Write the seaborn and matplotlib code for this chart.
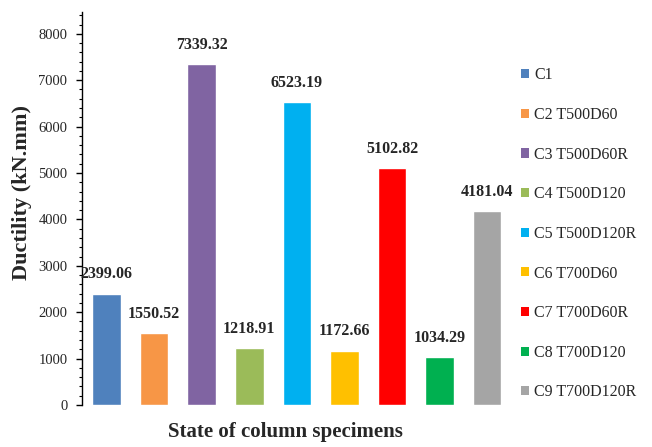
import matplotlib
matplotlib.use("Agg")
import matplotlib.pyplot as plt
import seaborn as sns
import pandas as pd
from matplotlib.patches import Patch
from matplotlib.ticker import MultipleLocator

categories = ["C1", "C2 T500D60", "C3 T500D60R", "C4 T500D120", "C5 T500D120R",
              "C6 T700D60", "C7 T700D60R", "C8 T700D120", "C9 T700D120R"]
values = [2399.06, 1550.52, 7339.32, 1218.91, 6523.19, 1172.66, 5102.82, 1034.29, 4181.04]
value_labels = ["2399.06", "1550.52", "7339.32", "1218.91", "6523.19",
                "1172.66", "5102.82", "1034.29", "4181.04"]
colors = ["#4F81BD", "#F79646", "#8064A2", "#9BBB59", "#00B0F0",
          "#FFC000", "#FF0000", "#00B050", "#A5A5A5"]
y_ticks = [0, 1000, 2000, 3000, 4000, 5000, 6000, 7000, 8000]

sns.set_style("white")
plt.rcParams["font.family"] = ["Liberation Serif", "DejaVu Serif"]

df = pd.DataFrame({"cat": categories, "val": values})

fig = plt.figure(figsize=(6.52, 4.47), dpi=100)
W, H = 652, 447
ax = fig.add_axes([82 / W, 1 - 405 / H, (511 - 82) / W, (405 - 12) / H])

sns.barplot(data=df, x="cat", y="val", hue="cat", palette=colors, width=0.6,
            legend=False, ax=ax, saturation=1, order=categories, hue_order=categories)

ax.set_xlim(-0.515, 8.5)
ax.set_ylim(0, 8470)
ax.set_yticks(y_ticks)
ax.yaxis.set_minor_locator(MultipleLocator(200))
ax.set_xticks([])
ax.set_xlabel("")
ax.set_ylabel("")
for s in ["top", "right", "bottom"]:
    ax.spines[s].set_visible(False)
ax.spines["left"].set_color("black")
ax.spines["left"].set_linewidth(1.0)
ax.tick_params(axis="y", which="major", direction="out", length=4.5, width=1,
               color="black", labelsize=10.5, pad=6, left=True)
ax.tick_params(axis="y", which="minor", direction="out", length=2.5, width=0.8,
               color="black", left=True)

for i, (v, lab) in enumerate(zip(values, value_labels)):
    ax.annotate(lab, (i, v), xytext=(0, 14), textcoords="offset points",
                ha="center", va="center", fontsize=11.5, fontweight="bold")

handles = [Patch(facecolor=c, edgecolor="none") for c in colors]
fig.legend(handles, categories, loc="upper left", bbox_to_anchor=(515 / W, 1 - 61 / H),
           frameon=False, fontsize=11.5, handlelength=0.5, handleheight=0.5,
           handletextpad=0.3, labelspacing=1.48, borderaxespad=0)

fig.text(285 / W, 1 - 432 / H, "State of column specimens", ha="center", va="center",
         fontsize=15, fontweight="bold")
fig.text(22 / W, 1 - 192 / H, "Ductility (kN.mm)", ha="center", va="center",
         rotation=90, fontsize=16, fontweight="bold")

fig.savefig("out.png", dpi=100)
